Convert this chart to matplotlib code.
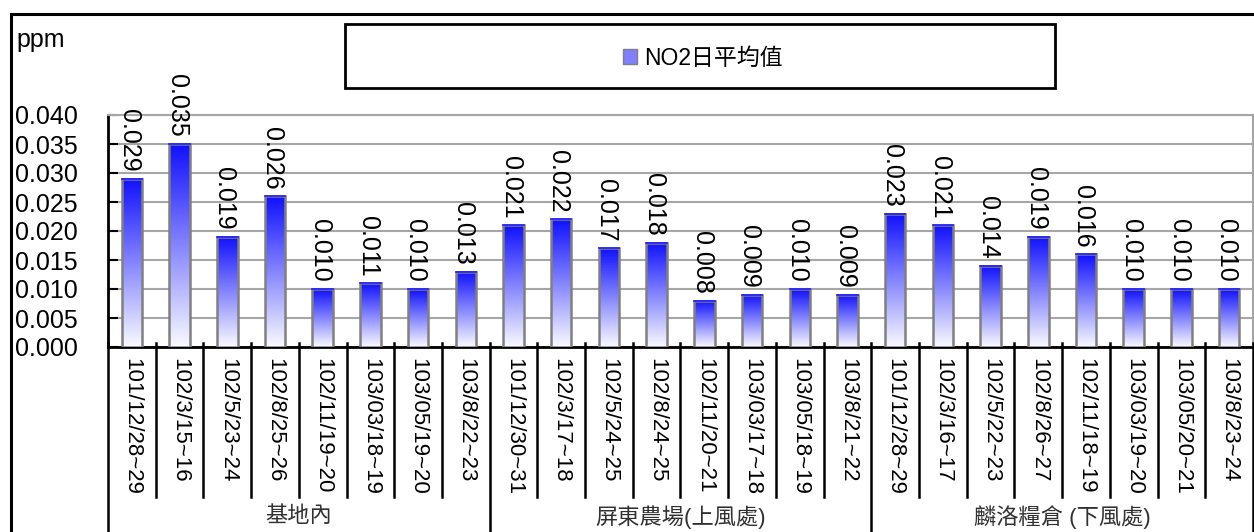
import matplotlib
matplotlib.use('Agg')
import matplotlib.pyplot as plt
import numpy as np
from matplotlib.patches import Rectangle, Patch
from matplotlib.colors import LinearSegmentedColormap

# data
groups = ['基地內', '屏東農場(上風處)', '麟洛糧倉 (下風處)']
dates = [
    '101/12/28~29', '102/3/15~16', '102/5/23~24', '102/8/25~26',
    '102/11/19~20', '103/03/18~19', '103/05/19~20', '103/8/22~23',
    '101/12/30~31', '102/3/17~18', '102/5/24~25', '102/8/24~25',
    '102/11/20~21', '103/03/17~18', '103/05/18~19', '103/8/21~22',
    '101/12/28~29', '102/3/16~17', '102/5/22~23', '102/8/26~27',
    '102/11/18~19', '103/03/19~20', '103/05/20~21', '103/8/23~24',
]
no2_base = [0.029, 0.035, 0.019, 0.026, 0.010, 0.011, 0.010, 0.013]
no2_pingtung = [0.021, 0.022, 0.017, 0.018, 0.008, 0.009, 0.010, 0.009]
no2_linluo = [0.023, 0.021, 0.014, 0.019, 0.016, 0.010, 0.010, 0.010]
values = no2_base + no2_pingtung + no2_linluo
group_size = 8

num_font = 'Liberation Sans'
cjk = ['Liberation Sans', 'Noto Sans CJK TC']

W, H = 1254, 532
fig = plt.figure(figsize=(W / 100, H / 100), dpi=100)
ax = fig.add_axes([108 / W, 1 - 347 / H, (1253 - 108) / W, 232 / H])

x = np.arange(len(values))
bw = 0.43
grad = LinearSegmentedColormap.from_list('g', ['#fafaff', '#1010ff'])
ramp = np.linspace(0, 1, 256).reshape(-1, 1)
for xi, v in zip(x, values):
    ax.imshow(ramp, cmap=grad, aspect='auto', origin='lower',
              extent=[xi - bw / 2, xi + bw / 2, 0, v], zorder=3)
    # thin blue cap on top of each bar
    ax.plot([xi - bw / 2, xi + bw / 2], [v, v], color='#2020ff', lw=1.2, zorder=5)
bars = ax.bar(x, values, width=bw, facecolor='none', edgecolor='#808080',
              linewidth=1.8, zorder=4)

for xi, v in zip(x, values):
    ax.annotate(f'{v:.3f}', (xi, v), xytext=(-2, 5), textcoords='offset points',
                rotation=270, ha='center', va='bottom', fontsize=18,
                family=num_font, annotation_clip=False, zorder=5)

ax.set_xlim(-0.5, len(values) - 0.5)
ax.set_ylim(0, 0.040)
ax.set_yticks(np.arange(0, 0.0401, 0.005))
ax.set_yticklabels([f'{t:.3f}' for t in np.arange(0, 0.0401, 0.005)],
                   family=num_font, fontsize=18)
ax.tick_params(axis='y', direction='in', length=7, width=1.5, color='black', pad=22)
ax.yaxis.grid(True, color='#a6a6a6', linewidth=1.5, zorder=0)
ax.set_axisbelow(True)

ax.set_xticks(x)
ax.set_xticklabels(dates, rotation=270, family=num_font, fontsize=16)
ax.tick_params(axis='x', length=0, pad=8)

for side in ['top', 'right']:
    ax.spines[side].set_color('#a6a6a6')
    ax.spines[side].set_linewidth(1.5)
ax.spines['left'].set_linewidth(2)
ax.spines['bottom'].set_linewidth(2)

# category separators under the axis
trans = ax.get_xaxis_transform()
bottom_fig = -(H - 347) / 232
for i in range(len(values) + 1):
    bx = i - 0.5
    low = bottom_fig if i % group_size == 0 else -150 / 232
    ax.plot([bx, bx], [4 / 232, low], color='black', lw=1.8,
            transform=trans, clip_on=False, zorder=6)

for gi, name in enumerate(groups):
    ax.text(gi * group_size + (group_size - 1) / 2, -(517 - 347) / 232, name,
            transform=trans, ha='center', va='center', fontsize=16,
            family=cjk, color='#303030')

fig.text(16 / W, 1 - 40 / H, 'ppm', family=num_font, fontsize=18,
         ha='left', va='center')

# outer frame
fig.add_artist(Rectangle((11 / W, -0.1), 1.2, (H - 14) / H + 0.1, fill=False,
                         edgecolor='black', linewidth=2.2, transform=fig.transFigure,
                         clip_on=False))

# legend box and entry
fig.add_artist(Rectangle((345 / W, 1 - 88 / H), 710 / W, 64 / H, fill=False,
                         edgecolor='black', linewidth=2, transform=fig.transFigure))
fig.legend([Patch(facecolor='#7f7fff', edgecolor='#808080')], ['NO2日平均值'],
           loc='center', bbox_to_anchor=(703 / W, 1 - 58 / H), frameon=False,
           prop={'family': cjk, 'size': 16.5}, handlelength=0.6, handleheight=0.6,
           handletextpad=0.3)

fig.savefig('out.png', dpi=100)
